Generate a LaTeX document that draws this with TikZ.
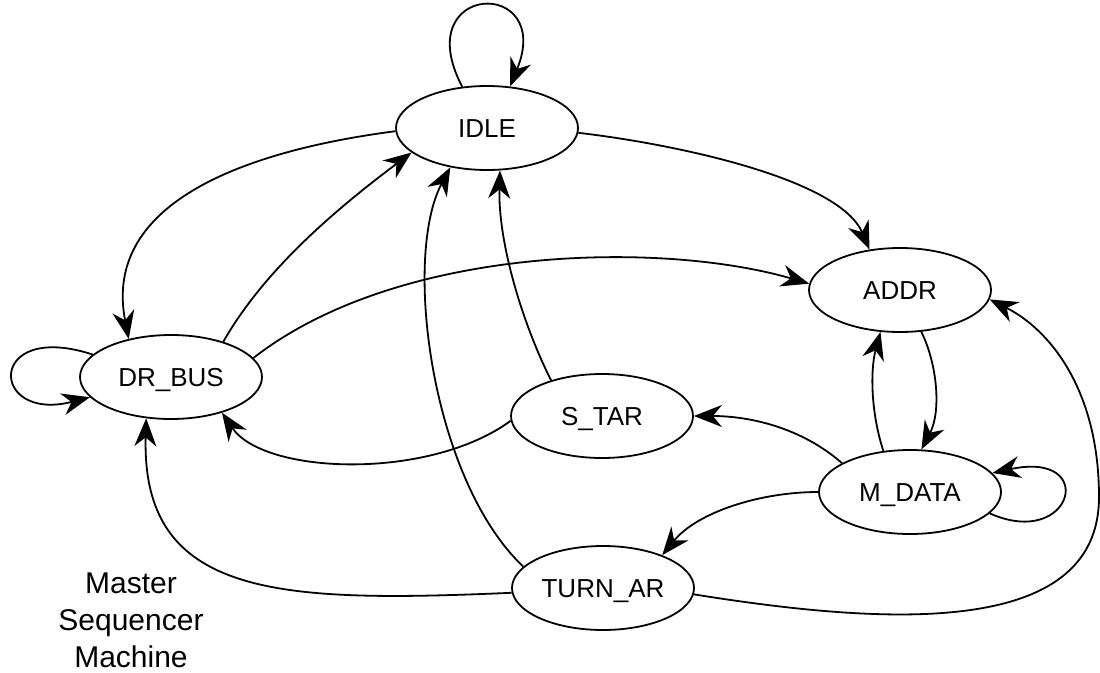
\documentclass[tikz,border=0pt]{standalone}
\usepackage{fontspec}
\setmainfont{Liberation Sans}
\usetikzlibrary{arrows.meta,shapes.geometric}
\tikzset{
  state/.style={draw, ellipse, line width=1.8pt, minimum width=182pt, minimum height=84pt,
    inner sep=0pt, font=\fontsize{26}{30}\selectfont, text height=18.6pt, text depth=0pt},
  edge/.style={line width=1.8pt, -{Stealth[length=28pt,width=22pt,inset=9pt]}},
}
\begin{document}
\begin{tikzpicture}[x=1pt,y=-1pt]
\fill[white] (0,0) rectangle (1100,672);
\useasboundingbox (0,0) rectangle (1100,672);

\node[state] (idle)   at (487,128) {IDLE};
\node[state] (addr)   at (900,290) {ADDR};
\node[state] (drbus)  at (171,377) {DR\_BUS};
\node[state] (star)   at (602,416) {S\_TAR};
\node[state] (mdata)  at (910,492) {M\_DATA};
\node[state] (turnar) at (603,588) {TURN\_AR};

\node[align=center, font=\fontsize{30}{37}\selectfont, inner sep=0pt] (label) at (131,620)
  {Master\\Sequencer\\Machine};

\coordinate (r) at (1099,497);

% IDLE self loop
\draw[edge] (idle.121) .. controls +(-55,-105) and +(45,-110) .. (idle.61);
% IDLE -> DR_BUS
\draw[edge] (idle.182) .. controls +(-146,19) and +(-27,-138) .. (drbus.138);
% DR_BUS -> IDLE
\draw[edge] (drbus.34) .. controls +(40,-70) and +(-80,60) .. (idle.198);
% IDLE -> ADDR
\draw[edge] (idle.357) .. controls +(102,12) and +(-30,-70) .. (addr.127);
% DR_BUS -> ADDR
\draw[edge] (drbus.13) .. controls +(145,-113) and +(-148,-43) .. (addr.176);
% DR_BUS self loop
\draw[edge] (drbus.164) .. controls +(-107,-35) and +(-101,26) .. (drbus.194);
% S_TAR -> IDLE
\draw[edge] (star.145) .. controls +(-30,-60) and +(-2,70) .. (idle.287);
% TURN_AR -> IDLE
\draw[edge] (turnar.165) .. controls +(-92,-87) and +(-48,90) .. (idle.227);
% S_TAR -> DR_BUS
\draw[edge] (star.183) .. controls +(-82,60) and +(42,62) .. (drbus.325);
% M_DATA -> S_TAR
\draw[edge] (mdata.157) .. controls +(-40,-35) and +(57,0) .. (star.0);
% M_DATA -> TURN_AR
\draw[edge] (mdata.180) .. controls +(-58,0) and +(35,-43) .. (turnar.29);
% M_DATA -> ADDR
\draw[edge] (mdata.123) .. controls +(-13,-40) and +(-10,37) .. (addr.245);
% ADDR -> M_DATA
\draw[edge] (addr.297) .. controls +(16,32) and +(20,-38) .. (mdata.75);
% M_DATA self loop
\draw[edge] (mdata.345) .. controls +(83,37) and +(107,-23) .. (mdata.13);
% TURN_AR -> ADDR
\draw[edge] (turnar.356) .. controls +(187,30) and +(0,143) .. (r)
                         .. controls +(0,-107) and +(60,30) .. (addr.354);
% TURN_AR -> DR_BUS
\draw[edge] (turnar.183) .. controls +(-232,10) and +(-5,180) .. (drbus.239);
\end{tikzpicture}
\end{document}
